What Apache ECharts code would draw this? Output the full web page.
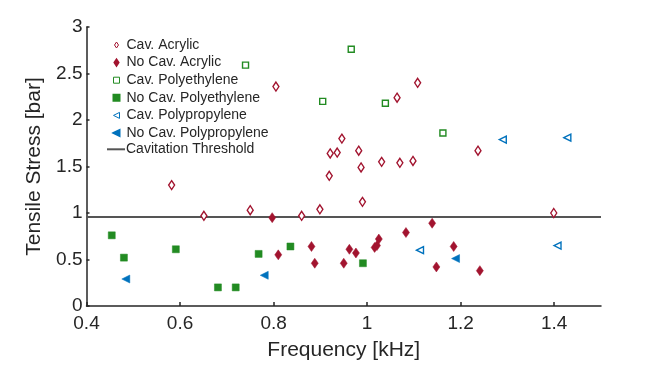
<!DOCTYPE html>
<html>
<head>
<meta charset="utf-8">
<script src="https://cdn.jsdelivr.net/npm/echarts@6/dist/echarts.min.js"></script>
<style>
  html, body { margin: 0; padding: 0; background: #fff; }
  #chart { width: 664px; height: 366px; }
</style>
</head>
<body>
<div id="chart"></div>
<script>
  // [frequency kHz, tensile stress bar]
  const cavAcrylic = [
    [0.582, 1.30], [0.651, 0.97], [0.750, 1.03], [0.805, 2.36], [0.860, 0.97],
    [0.899, 1.04], [0.919, 1.40], [0.921, 1.64], [0.936, 1.65], [0.946, 1.80],
    [0.982, 1.67], [0.987, 1.49], [0.990, 1.12], [1.031, 1.55], [1.064, 2.24],
    [1.070, 1.54], [1.098, 1.56], [1.108, 2.40], [1.237, 1.67], [1.399, 1.00]
  ]
  const noCavAcrylic = [
    [0.797, 0.95], [0.810, 0.55], [0.881, 0.64], [0.888, 0.46], [0.950, 0.46],
    [0.962, 0.61], [0.976, 0.57], [1.016, 0.63], [1.021, 0.65], [1.025, 0.72],
    [1.083, 0.79], [1.139, 0.89], [1.148, 0.42], [1.185, 0.64], [1.241, 0.38]
  ]
  const cavPolyethylene = [
    [0.740, 2.59], [0.905, 2.20], [0.966, 2.76], [1.039, 2.18], [1.162, 1.86]
  ]
  const noCavPolyethylene = [
    [0.454, 0.76], [0.480, 0.52], [0.591, 0.61], [0.681, 0.20], [0.719, 0.20],
    [0.768, 0.56], [0.836, 0.64], [0.991, 0.46]
  ]
  const cavPolypropylene = [
    [1.113, 0.60], [1.290, 1.79], [1.407, 0.65], [1.428, 1.81]
  ]
  const noCavPolypropylene = [
    [0.484, 0.29], [0.780, 0.33], [1.189, 0.51]
  ]
  const threshold = 0.957
  const xRange = [0.4, 1.5]

  const red = '#A2142F'
  const green = '#228B22'
  const blue = '#0072BD'
  const ink = '#262626'
  const font = 'Liberation Sans, Arial, sans-serif'

  // 图例里的小图标（保持比例）
  const iconDiamond = 'path://M2,0 L4,3 L2,6 L0,3 Z'
  const iconRect = 'path://M0,0 L4,0 L4,4 L0,4 Z'
  const iconLeftTri = 'path://M0,2.5 L5,0 L5,5 Z'

  const myChart = echarts.init(document.getElementById('chart'))

  function scatter(name, data, symbol, size, color, open, rotate) {
    return {
      name: name,
      type: 'scatter',
      data: data,
      symbol: symbol,
      symbolSize: size,
      symbolRotate: rotate || 0,
      z: 3,
      itemStyle: open
        ? { color: '#fff', borderColor: color, borderWidth: 1.4, opacity: 1 }
        : { color: color, borderColor: color, borderWidth: 0.5, opacity: 1 }
    }
  }

  const legendText = {
    color: ink,
    fontSize: 14,
    lineHeight: 14,
    fontFamily: font
  }
  const thinBorder = { borderWidth: 1 }

  myChart.setOption({
    animation: false,
    textStyle: { fontFamily: font },
    grid: {
      left: 86.5,
      right: 63,
      top: 27,
      bottom: 59
    },
    legend: [
      {
        orient: 'vertical',
        left: 112.5,
        top: 38,
        padding: 0,
        itemGap: 3.6,
        itemWidth: 6,
        itemHeight: 6,
        symbolKeepAspect: true,
        textStyle: Object.assign({ padding: [0, 0, 0, 2] }, legendText),
        data: [
          { name: 'Cav. Acrylic', icon: iconDiamond, itemStyle: thinBorder },
          { name: 'No Cav. Acrylic', icon: iconDiamond },
          { name: 'Cav. Polyethylene', icon: iconRect, itemStyle: thinBorder },
          { name: 'No Cav. Polyethylene', icon: iconRect },
          { name: 'Cav. Polypropylene', icon: iconLeftTri, itemStyle: thinBorder },
          { name: 'No Cav. Polypropylene', icon: iconLeftTri }
        ]
      },
      {
        orient: 'vertical',
        left: 107,
        top: 142.3,
        padding: 0,
        itemWidth: 18,
        itemHeight: 2,
        textStyle: Object.assign({ padding: [0, 0, 0, -4] }, legendText),
        data: [{ name: 'Cavitation Threshold', icon: 'rect' }]
      }
    ],
    xAxis: {
      type: 'value',
      min: xRange[0],
      max: xRange[1],
      interval: 0.2,
      name: 'Frequency [kHz]',
      nameLocation: 'middle',
      nameGap: 34,
      nameTextStyle: { color: ink, fontSize: 21, fontFamily: font },
      axisLine: { lineStyle: { color: ink, width: 1.5 } },
      axisTick: { inside: true, length: 4, lineStyle: { color: ink, width: 1.5 } },
      axisLabel: {
        color: ink,
        fontSize: 19,
        margin: 8,
        fontFamily: font,
        showMaxLabel: false,
        formatter: (v) => String(Math.round(v * 10) / 10)
      },
      splitLine: { show: false }
    },
    yAxis: {
      type: 'value',
      min: 0,
      max: 3,
      interval: 0.5,
      name: 'Tensile Stress [bar]',
      nameLocation: 'middle',
      nameGap: 37,
      nameTextStyle: { color: ink, fontSize: 21, fontFamily: font },
      axisLine: { show: true, lineStyle: { color: ink, width: 1.5 } },
      axisTick: { show: true, inside: true, length: 3, lineStyle: { color: ink, width: 1.5 } },
      axisLabel: { color: ink, fontSize: 19, margin: 4, fontFamily: font },
      splitLine: { show: false }
    },
    series: [
      scatter('Cav. Acrylic', cavAcrylic, 'diamond', [6, 9], red, true),
      scatter('No Cav. Acrylic', noCavAcrylic, 'diamond', [7, 10], red, false),
      scatter('Cav. Polyethylene', cavPolyethylene, 'rect', 6, green, true),
      scatter('No Cav. Polyethylene', noCavPolyethylene, 'rect', 7, green, false),
      scatter('Cav. Polypropylene', cavPolypropylene, 'triangle', [7, 7], blue, true, 90),
      scatter('No Cav. Polypropylene', noCavPolypropylene, 'triangle', [8, 8], blue, false, 90),
      {
        name: 'Cavitation Threshold',
        type: 'line',
        data: [[xRange[0], threshold], [xRange[1], threshold]],
        symbol: 'none',
        z: 2,
        lineStyle: { color: '#555555', width: 2 },
        itemStyle: { color: '#555555' }
      }
    ]
  })

  window.addEventListener('resize', () => {
    myChart && myChart.resize()
  })
</script>
</body>
</html>
